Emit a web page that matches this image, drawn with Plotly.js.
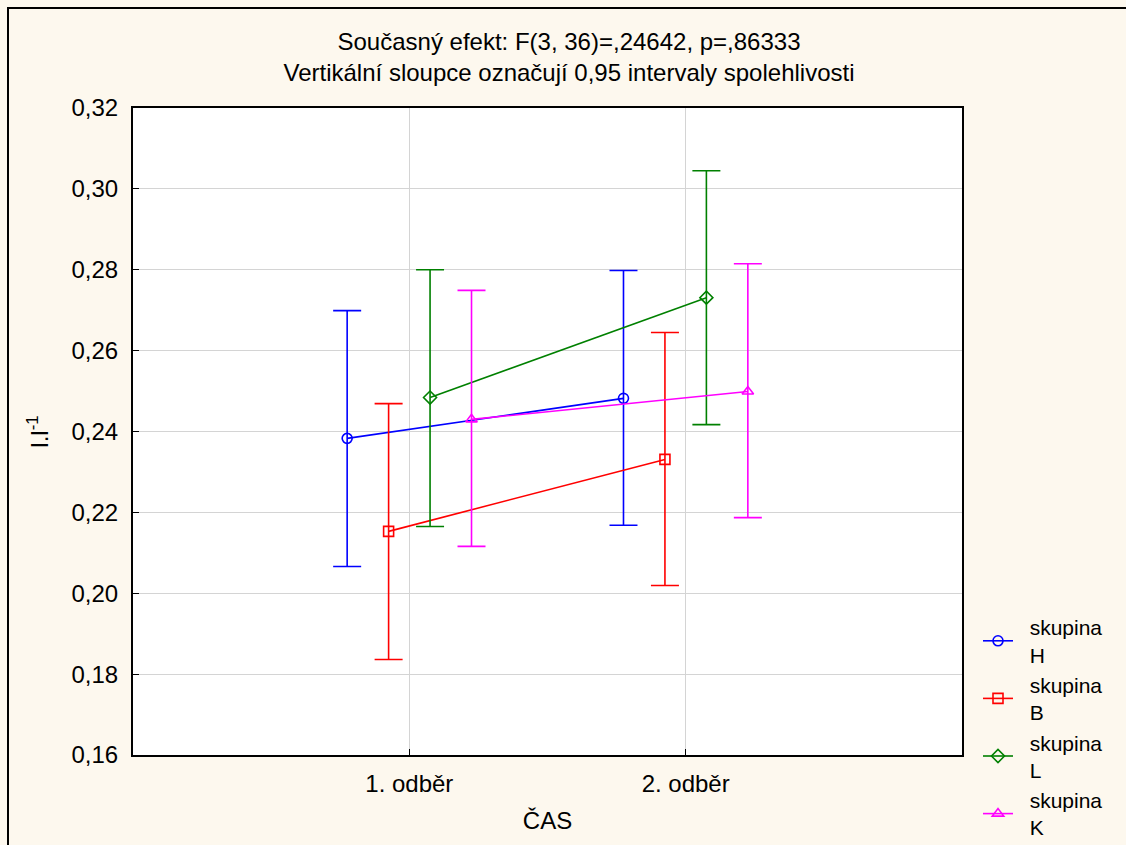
<!DOCTYPE html>
<html>
<head>
<meta charset="utf-8">
<script src="https://cdn.plot.ly/plotly-3.0.1.min.js"></script>
<style>html,body{margin:0;padding:0;background:#fdf8ee;}#chart{width:1126px;height:845px;}</style>
</head>
<body>
<div id="chart"></div>
<script>
// ---- data ----
const categories = ['1. odběr', '2. odběr'];
const groupNames = ['skupina<br>H', 'skupina<br>B', 'skupina<br>L', 'skupina<br>K'];
const meanH = [0.2383, 0.2482];
const upperH = [0.2699, 0.2798];
const lowerH = [0.2066, 0.2168];
const meanB = [0.2153, 0.2331];
const upperB = [0.2469, 0.2645];
const lowerB = [0.1836, 0.2019];
const meanL = [0.2484, 0.2731];
const upperL = [0.2800, 0.3045];
const lowerL = [0.2165, 0.2417];
const meanK = [0.2430, 0.2499];
const upperK = [0.2749, 0.2815];
const lowerK = [0.2116, 0.2187];
const yTicks = [0.16, 0.18, 0.20, 0.22, 0.24, 0.26, 0.28, 0.30, 0.32];

// ---- styling ----
const colors = ['#0000ff', '#ff0000', '#008000', '#ff00ff'];
const symbols = ['circle-open', 'square-open', 'diamond-open', 'triangle-up-open'];
const offsets = [-0.225, -0.075, 0.075, 0.225];
const means = [meanH, meanB, meanL, meanK];
const uppers = [upperH, upperB, upperL, upperK];
const lowers = [lowerH, lowerB, lowerL, lowerK];
const FONT = 'Liberation Sans, Arial, sans-serif';
const PAD = '\u00a0\u00a0';

const traces = groupNames.map((name, g) => ({
  type: 'scatter',
  mode: 'lines+markers',
  name: PAD + name.replace('<br>', '<br>' + PAD),
  x: categories.map((c, i) => i + offsets[g]),
  y: means[g],
  line: {color: colors[g], width: 1.6},
  marker: {symbol: symbols[g], size: 10, color: colors[g], line: {color: colors[g], width: 1.6}},
  error_y: {
    type: 'data', symmetric: false,
    array: means[g].map((m, i) => uppers[g][i] - m),
    arrayminus: means[g].map((m, i) => m - lowers[g][i]),
    color: colors[g], thickness: 1.6, width: 14
  }
}));

const layout = {
  width: 1126, height: 845,
  paper_bgcolor: '#fdf8ee',
  plot_bgcolor: '#ffffff',
  separators: ',.',
  font: {family: FONT, size: 24, color: '#000000'},
  margin: {l: 133, r: 164, t: 108, b: 90, pad: 0, autoexpand: false},
  title: {
    text: 'Současný efekt: F(3, 36)=,24642, p=,86333<br>Vertikální sloupce označují 0,95 intervaly spolehlivosti',
    font: {family: FONT, size: 24, color: '#000000'},
    x: 569 / 1126, xref: 'container', xanchor: 'center',
    y: 1 - 50 / 845, yref: 'container', yanchor: 'top'
  },
  xaxis: {
    range: [-1, 2],
    tickmode: 'array', tickvals: categories.map((c, i) => i), ticktext: categories,
    ticks: 'inside', ticklen: 6, tickcolor: '#000000', tickwidth: 1,
    showgrid: true, gridcolor: '#d4d4d4', gridwidth: 1,
    showline: true, mirror: true, linecolor: '#000000', linewidth: 2,
    zeroline: false,
    ticklabelstandoff: 6,
    tickfont: {family: FONT, size: 24},
    title: {text: 'ČAS', font: {family: FONT, size: 24}, standoff: 16}
  },
  yaxis: {
    range: [0.16, 0.32],
    tickmode: 'array', tickvals: yTicks, tickformat: '.2f',
    ticks: 'inside', ticklen: 6, tickcolor: '#000000', tickwidth: 1,
    showgrid: true, gridcolor: '#d4d4d4', gridwidth: 1,
    showline: true, mirror: true, linecolor: '#000000', linewidth: 2,
    zeroline: false,
    ticklabelstandoff: 8,
    tickfont: {family: FONT, size: 24},
    title: {text: 'l.l<sup>-1</sup>', font: {family: FONT, size: 24}, standoff: 16}
  },
  legend: {
    x: (983 - 5 - 133) / 829, xanchor: 'left', y: (755 - 607) / 647, yanchor: 'top',
    bgcolor: 'rgba(0,0,0,0)', borderwidth: 0,
    font: {family: FONT, size: 21},
    tracegroupgap: 0, itemwidth: 30
  },
  shapes: [{
    type: 'rect', xref: 'paper', yref: 'paper',
    x0: (8 - 133) / 829, x1: 2, y0: -1, y1: (755 - 8) / 647,
    line: {color: '#000000', width: 2}, fillcolor: 'rgba(0,0,0,0)', layer: 'below'
  }],
  showlegend: true
};

Plotly.newPlot('chart', traces, layout, {displayModeBar: false, staticPlot: true});
</script>
</body>
</html>
